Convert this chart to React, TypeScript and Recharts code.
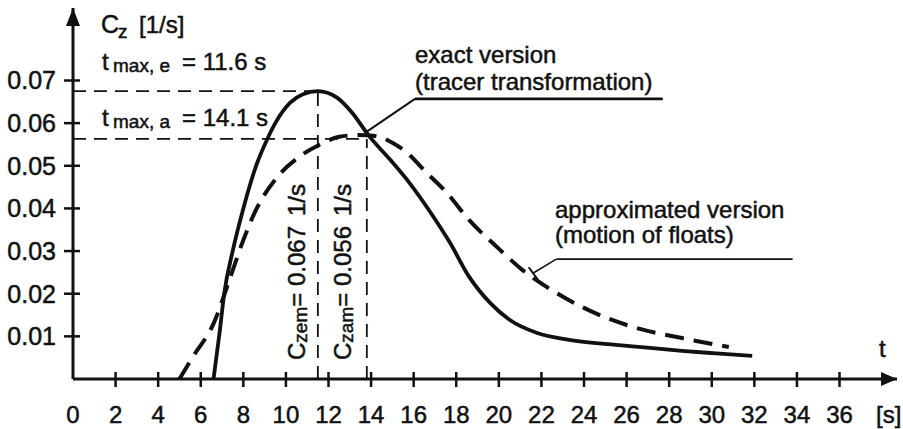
import React from "react";
import {
  LineChart,
  Line,
  XAxis,
  YAxis,
  ReferenceLine,
  ReferenceDot,
} from "recharts";

// exact version (tracer transformation)
const exactT = [6.6, 6.9, 7.1, 7.5, 8.0, 8.6, 9.1, 9.5, 10.2, 10.8, 11.5, 12.4, 13.1, 13.9, 14.9, 15.8, 16.8, 17.7, 18.6, 19.6, 20.5, 21.8, 23.3, 25.5, 27.1, 28.6, 30.2, 31.9];
const exactC = [0, 0.0115, 0.02, 0.03, 0.04, 0.05, 0.056, 0.06, 0.0648, 0.0668, 0.0675, 0.066, 0.0625, 0.057, 0.0514, 0.046, 0.039, 0.032, 0.024, 0.0178, 0.0139, 0.0108, 0.0092, 0.008, 0.0073, 0.0066, 0.006, 0.0054];

// approximated version (motion of floats)
const approxT = [5.0, 5.6, 6.6, 7.4, 8.0, 8.6, 9.6, 10.6, 11.6, 12.5, 13.4, 14.2, 15.0, 15.7, 16.6, 17.55, 18.6, 19.9, 21.1, 22.7, 23.9, 26.3, 28.6, 30.8];
const approxC = [0, 0.005, 0.013, 0.024, 0.0326, 0.0397, 0.0474, 0.052, 0.055, 0.0568, 0.0572, 0.057, 0.0554, 0.053, 0.0484, 0.0437, 0.0373, 0.031, 0.0256, 0.0202, 0.0169, 0.0122, 0.0096, 0.0075];

const xTicks = [0, 2, 4, 6, 8, 10, 12, 14, 16, 18, 20, 22, 24, 26, 28, 30, 32, 34, 36];
const yTicks = [0.01, 0.02, 0.03, 0.04, 0.05, 0.06, 0.07];

const xMax = 38.7;
const yMax = 0.087;

// maxima marked with dashed guides
const peakExact = { t: 11.5, c: 0.0675 };
const peakApprox = { t: 13.8, c: 0.0563 };

const exactData = exactT.map((t, i) => ({ t, c: exactC[i] }));
const approxData = approxT.map((t, i) => ({ t, c: approxC[i] }));

const FONT = "'Liberation Sans', Arial, Helvetica, sans-serif";
const INK = "#111";
// scanned print looks a bit heavier than regular weight
const heavy = { stroke: INK, strokeWidth: 0.5 };

const XTick = (props: any) => {
  const { x, y, payload } = props;
  return (
    <g>
      {payload.value !== 0 && (
        <line x1={x} x2={x} y1={y - 7} y2={y + 8} stroke={INK} strokeWidth={2.5} />
      )}
      <text x={x} y={y + 44} textAnchor="middle" fontSize={24} fontFamily={FONT} fill={INK} {...heavy}>
        {payload.value}
      </text>
    </g>
  );
};

const YTick = (props: any) => {
  const { x, y, payload } = props;
  return (
    <g>
      <line x1={x - 9} x2={x + 7} y1={y} y2={y} stroke={INK} strokeWidth={2.5} />
      <text x={x - 17} y={y + 9} textAnchor="end" fontSize={25} fontFamily={FONT} fill={INK} {...heavy}>
        {payload.value.toFixed(2)}
      </text>
    </g>
  );
};

const UpArrow = (p: any) => (
  <polygon points={`${p.cx},${p.cy} ${p.cx - 7},${p.cy + 18} ${p.cx + 7},${p.cy + 18}`} fill={INK} />
);
const RightArrow = (p: any) => (
  <polygon points={`${p.cx},${p.cy} ${p.cx - 16},${p.cy - 7} ${p.cx - 16},${p.cy + 7}`} fill={INK} />
);

const guide = { stroke: INK, strokeWidth: 1.8, strokeDasharray: "13 8" };

export default function App() {
  return (
    <div style={{ position: "absolute", left: 0, top: 0, width: 903, height: 429, background: "#fff" }}>
      <LineChart width={903} height={429} margin={{ top: 8, right: 6, left: 8, bottom: 10 }}>
        <XAxis
          type="number"
          dataKey="t"
          domain={[0, xMax]}
          ticks={xTicks}
          allowDataOverflow
          height={40}
          tickSize={0}
          tickMargin={0}
          tickLine={false}
          axisLine={{ stroke: INK, strokeWidth: 3 }}
          tick={<XTick />}
        />
        <YAxis
          type="number"
          domain={[0, yMax]}
          ticks={yTicks}
          allowDataOverflow
          width={65}
          tickSize={0}
          tickMargin={0}
          tickLine={false}
          axisLine={{ stroke: INK, strokeWidth: 3 }}
          tick={<YTick />}
        />

        <ReferenceLine segment={[{ x: 0, y: peakExact.c }, { x: peakExact.t, y: peakExact.c }]} {...guide} />
        <ReferenceLine segment={[{ x: peakExact.t, y: 0 }, { x: peakExact.t, y: peakExact.c }]} {...guide} />
        <ReferenceLine segment={[{ x: 0, y: peakApprox.c }, { x: peakApprox.t, y: peakApprox.c }]} {...guide} />
        <ReferenceLine segment={[{ x: peakApprox.t, y: 0 }, { x: peakApprox.t, y: peakApprox.c }]} {...guide} />

        {/* callout leaders */}
        <ReferenceLine segment={[{ x: 13.8, y: 0.058 }, { x: 16.06, y: 0.0657 }]} stroke={INK} strokeWidth={2} />
        <ReferenceLine segment={[{ x: 16.06, y: 0.0657 }, { x: 27.7, y: 0.0657 }]} stroke={INK} strokeWidth={2.6} />
        <ReferenceLine segment={[{ x: 21.6, y: 0.0248 }, { x: 22.7, y: 0.0281 }]} stroke={INK} strokeWidth={1.6} />
        <ReferenceLine segment={[{ x: 22.7, y: 0.0281 }, { x: 33.8, y: 0.0281 }]} stroke={INK} strokeWidth={1.6} />
        <ReferenceLine segment={[{ x: 21.4, y: 0.0262 }, { x: 21.85, y: 0.0232 }]} stroke={INK} strokeWidth={2} />

        <Line
          data={approxData}
          dataKey="c"
          type="monotone"
          stroke={INK}
          strokeWidth={4}
          strokeDasharray="19 10"
          dot={false}
          isAnimationActive={false}
        />
        <Line
          data={exactData}
          dataKey="c"
          type="monotone"
          stroke={INK}
          strokeWidth={3.8}
          dot={false}
          isAnimationActive={false}
        />

        <ReferenceDot x={0} y={yMax} r={0} shape={<UpArrow />} />
        <ReferenceDot x={xMax} y={0} r={0} shape={<RightArrow />} />
      </LineChart>

      <svg
        width={903}
        height={429}
        style={{ position: "absolute", left: 0, top: 0, pointerEvents: "none" }}
        fontFamily={FONT}
        fill={INK}
        stroke={INK}
        strokeWidth={0.5}
      >
        <text x={101} y={33} fontSize={25}>C</text>
        <text x={118} y={38} fontSize={19}>z</text>
        <text x={139} y={33} fontSize={24}>[1/s]</text>

        <text x={102} y={70} fontSize={24}>t</text>
        <text x={113} y={72} fontSize={19}>max, e</text>
        <text x={182} y={70} fontSize={24}>= 11.6 s</text>

        <text x={102} y={126} fontSize={24}>t</text>
        <text x={113} y={128} fontSize={19}>max, a</text>
        <text x={182} y={126} fontSize={24}>= 14.1 s</text>

        <text x={415} y={63} fontSize={24}>exact version</text>
        <text x={415} y={90} fontSize={24}>(tracer transformation)</text>

        <text x={555} y={218} fontSize={24}>approximated version</text>
        <text x={555} y={243} fontSize={24}>(motion of floats)</text>

        <text transform="translate(305,360) rotate(-90)" fontSize={24}>
          C<tspan fontSize={19} dy={2}>zem</tspan>
          <tspan dy={-2}>= 0.067</tspan>
          <tspan dx={10}>1/s</tspan>
        </text>
        <text transform="translate(351,360) rotate(-90)" fontSize={24}>
          C<tspan fontSize={19} dy={2}>zam</tspan>
          <tspan dy={-2}>= 0.056</tspan>
          <tspan dx={10}>1/s</tspan>
        </text>

        <text x={879} y={357} fontSize={24}>t</text>
        <text x={876} y={423} fontSize={24}>[s]</text>
      </svg>
    </div>
  );
}
